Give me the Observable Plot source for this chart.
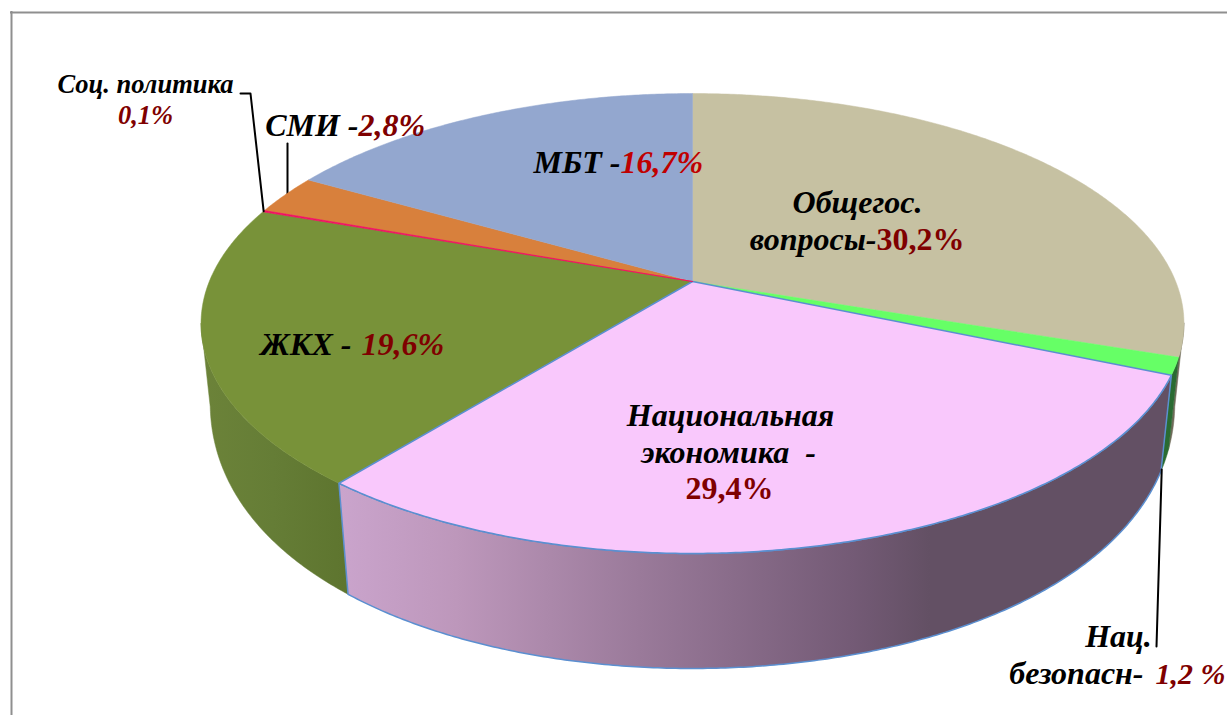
<!DOCTYPE html>
<html lang="ru">
<head>
<meta charset="utf-8">
<style>html,body{margin:0;padding:0;background:#fff}svg{display:block}</style>
<script src="https://cdn.jsdelivr.net/npm/d3@7"></script>
<script src="https://cdn.jsdelivr.net/npm/@observablehq/plot@0.6"></script>
</head>
<body>
<div id="chart"></div>
<script>
const categories = ["Общегос. вопросы", "Нац. безопасн", "Национальная экономика", "ЖКХ", "Соц. политика", "СМИ", "МБТ"];
const shares = [30.2, 1.2, 29.4, 19.6, 0.1, 2.8, 16.7];
const topColors = ["#c6c1a2", "#66ff66", "#f9c8fc", "#789239", "#f01060", "#d8803c", "#93a7cf"];
const wallColors = ["#6e6a58", "#2a6b32", "url(#wallPink)", "url(#wallOlive)", "#f01060", "#d8803c", "#93a7cf"];
const outlines = ["none", "none", "#5b8fd0", "none", "#f01060", "none", "none"];

// Perspective pie layout
const cx = 692, apexY = 281, R = 483.2, p = -0.1826, b = 171;
const vanishX = 692, vanishY = 4800;
const view = t => {
  const a = t * 2 * Math.PI, u = Math.sin(a), v = -Math.cos(a), w = 1 + p * v;
  return {x: cx + R * u / w, y: (apexY + b * v) / w, v};
};
const depth = v => 96 + 38.7 * (v - 0.39) - 33.9 * (v - 0.39) * (v - 0.778);
const under = t => {
  const q = view(t), k = depth(q.v) / (vanishY - q.y);
  return {x: q.x + (vanishX - q.x) * k, y: q.y + (vanishY - q.y) * k};
};
const arcSteps = (t0, t1) => {
  const n = Math.max(2, Math.ceil((t1 - t0) * 800));
  return d3.range(n + 1).map(i => t0 + (t1 - t0) * i / n);
};

let acc = 0;
const slices = shares.map((s, i) => {
  const t0 = acc / 100; acc += s;
  return {i, name: categories[i], t0, t1: acc / 100};
});
const topFace = s => [{x: cx, y: apexY}, ...arcSteps(s.t0, s.t1).map(view), {x: cx, y: apexY}];
const wallFace = s => {
  const t0 = Math.max(s.t0, 0.279), t1 = Math.min(s.t1, 0.721);
  if (t1 <= t0) return [];
  const ts = arcSteps(t0, t1);
  return [...ts.map(view), ...ts.slice().reverse().map(under), view(t0)];
};
const faceMark = (pts, fill, stroke, strokeWidth) => Plot.line(pts, {
  x: "x", y: "y", fill, stroke: stroke === "none" ? fill : stroke,
  strokeWidth: strokeWidth, strokeLinejoin: "round", curve: "linear"
});

const gradientDefs = () => {
  const svg = d3.create("svg:g");
  const defs = svg.append("defs");
  const add = (id, x1, x2, stops) => {
    const g = defs.append("linearGradient").attr("id", id)
      .attr("gradientUnits", "userSpaceOnUse")
      .attr("x1", x1).attr("x2", x2).attr("y1", 0).attr("y2", 0);
    stops.forEach(([o, c]) => g.append("stop").attr("offset", o).attr("stop-color", c));
  };
  add("wallPink", 340, 1170, [[0, "#caa4cc"], [0.14, "#bd97bb"], [0.36, "#9a7a9a"], [0.62, "#735a75"], [0.71, "#635064"], [1, "#635064"]]);
  add("wallOlive", 200, 345, [[0, "#6c8339"], [0.5, "#657d36"], [1, "#5e752f"]]);
  return svg.node();
};

const serif = "Liberation Serif";
const black = "#000000", darkRed = "#7f0000", red = "#c00000";
const label = (rows, size) => rows.map(r => Plot.text([r], {
  x: "x", y: "y", text: "text", fill: r.fill, textAnchor: r.anchor,
  fontStyle: r.style, fontWeight: "bold", fontFamily: serif, fontSize: size,
  lineAnchor: "bottom"
}));

const chart = Plot.plot({
  width: 1227, height: 715, margin: 0,
  x: {axis: null, domain: [0, 1227], range: [0, 1227]},
  y: {axis: null, domain: [0, 715], range: [0, 715]},
  style: {background: "white"},
  marks: [
    gradientDefs,
    Plot.ruleY([12], {x1: 10, x2: 1227, stroke: "#8f8f8f", strokeWidth: 2}),
    Plot.ruleX([11], {y1: 11, y2: 715, stroke: "#8f8f8f", strokeWidth: 2}),
    ...[3, 0, 1, 2].map(i => faceMark(wallFace(slices[i]), wallColors[i], outlines[i], outlines[i] === "none" ? 0.5 : 1.5)),
    Plot.line([{x: 287, y: 143}, {x: 287, y: 200}], {x: "x", y: "y", stroke: "black", strokeWidth: 2}),
    ...[0, 1, 3, 5, 6].map(i => faceMark(topFace(slices[i]), topColors[i], "none", 0.5)),
    faceMark(topFace(slices[2]), topColors[2], outlines[2], 1.5),
    faceMark(topFace(slices[4]), topColors[4], outlines[4], 0.75),
    Plot.line([{x: 240, y: 93}, {x: 250, y: 93}, view((slices[4].t0 + slices[4].t1) / 2)], {x: "x", y: "y", stroke: "black", strokeWidth: 2}),
    Plot.line([under(slices[1].t1 - 0.001), {x: 1156, y: 646}], {x: "x", y: "y", stroke: "black", strokeWidth: 2}),
    ...label([
      {x: 145, y: 92, text: "Соц. политика", fill: black, anchor: "middle", style: "italic"},
      {x: 145, y: 123, text: "0,1%", fill: darkRed, anchor: "middle", style: "italic"}
    ], 26.5),
    ...label([
      {x: 358, y: 135, text: "СМИ -", fill: black, anchor: "end", style: "italic"},
      {x: 358, y: 135, text: "2,8%", fill: darkRed, anchor: "start", style: "italic"},
      {x: 620, y: 172, text: "МБТ -", fill: black, anchor: "end", style: "italic"},
      {x: 620, y: 172, text: "16,7%", fill: red, anchor: "start", style: "italic"},
      {x: 857, y: 212, text: "Общегос.", fill: black, anchor: "middle", style: "italic"},
      {x: 876, y: 249, text: "вопросы-", fill: black, anchor: "end", style: "italic"},
      {x: 876, y: 249, text: "30,2%", fill: darkRed, anchor: "start", style: "normal"},
      {x: 351, y: 354, text: "ЖКХ -", fill: black, anchor: "end", style: "italic"},
      {x: 361, y: 354, text: "19,6%", fill: darkRed, anchor: "start", style: "italic"},
      {x: 730, y: 425, text: "Национальная", fill: black, anchor: "middle", style: "italic"},
      {x: 728, y: 462, text: "экономика  -", fill: black, anchor: "middle", style: "italic"},
      {x: 729, y: 498, text: "29,4%", fill: darkRed, anchor: "middle", style: "normal"},
      {x: 1118, y: 646, text: "Нац.", fill: black, anchor: "middle", style: "italic"},
      {x: 1143, y: 683, text: "безопасн-", fill: black, anchor: "end", style: "italic"}
    ], 32),
    ...label([
      {x: 1155, y: 683, text: "1,2 %", fill: darkRed, anchor: "start", style: "italic"}
    ], 30)
  ]
});
document.getElementById("chart").append(chart);
</script>
</body>
</html>
